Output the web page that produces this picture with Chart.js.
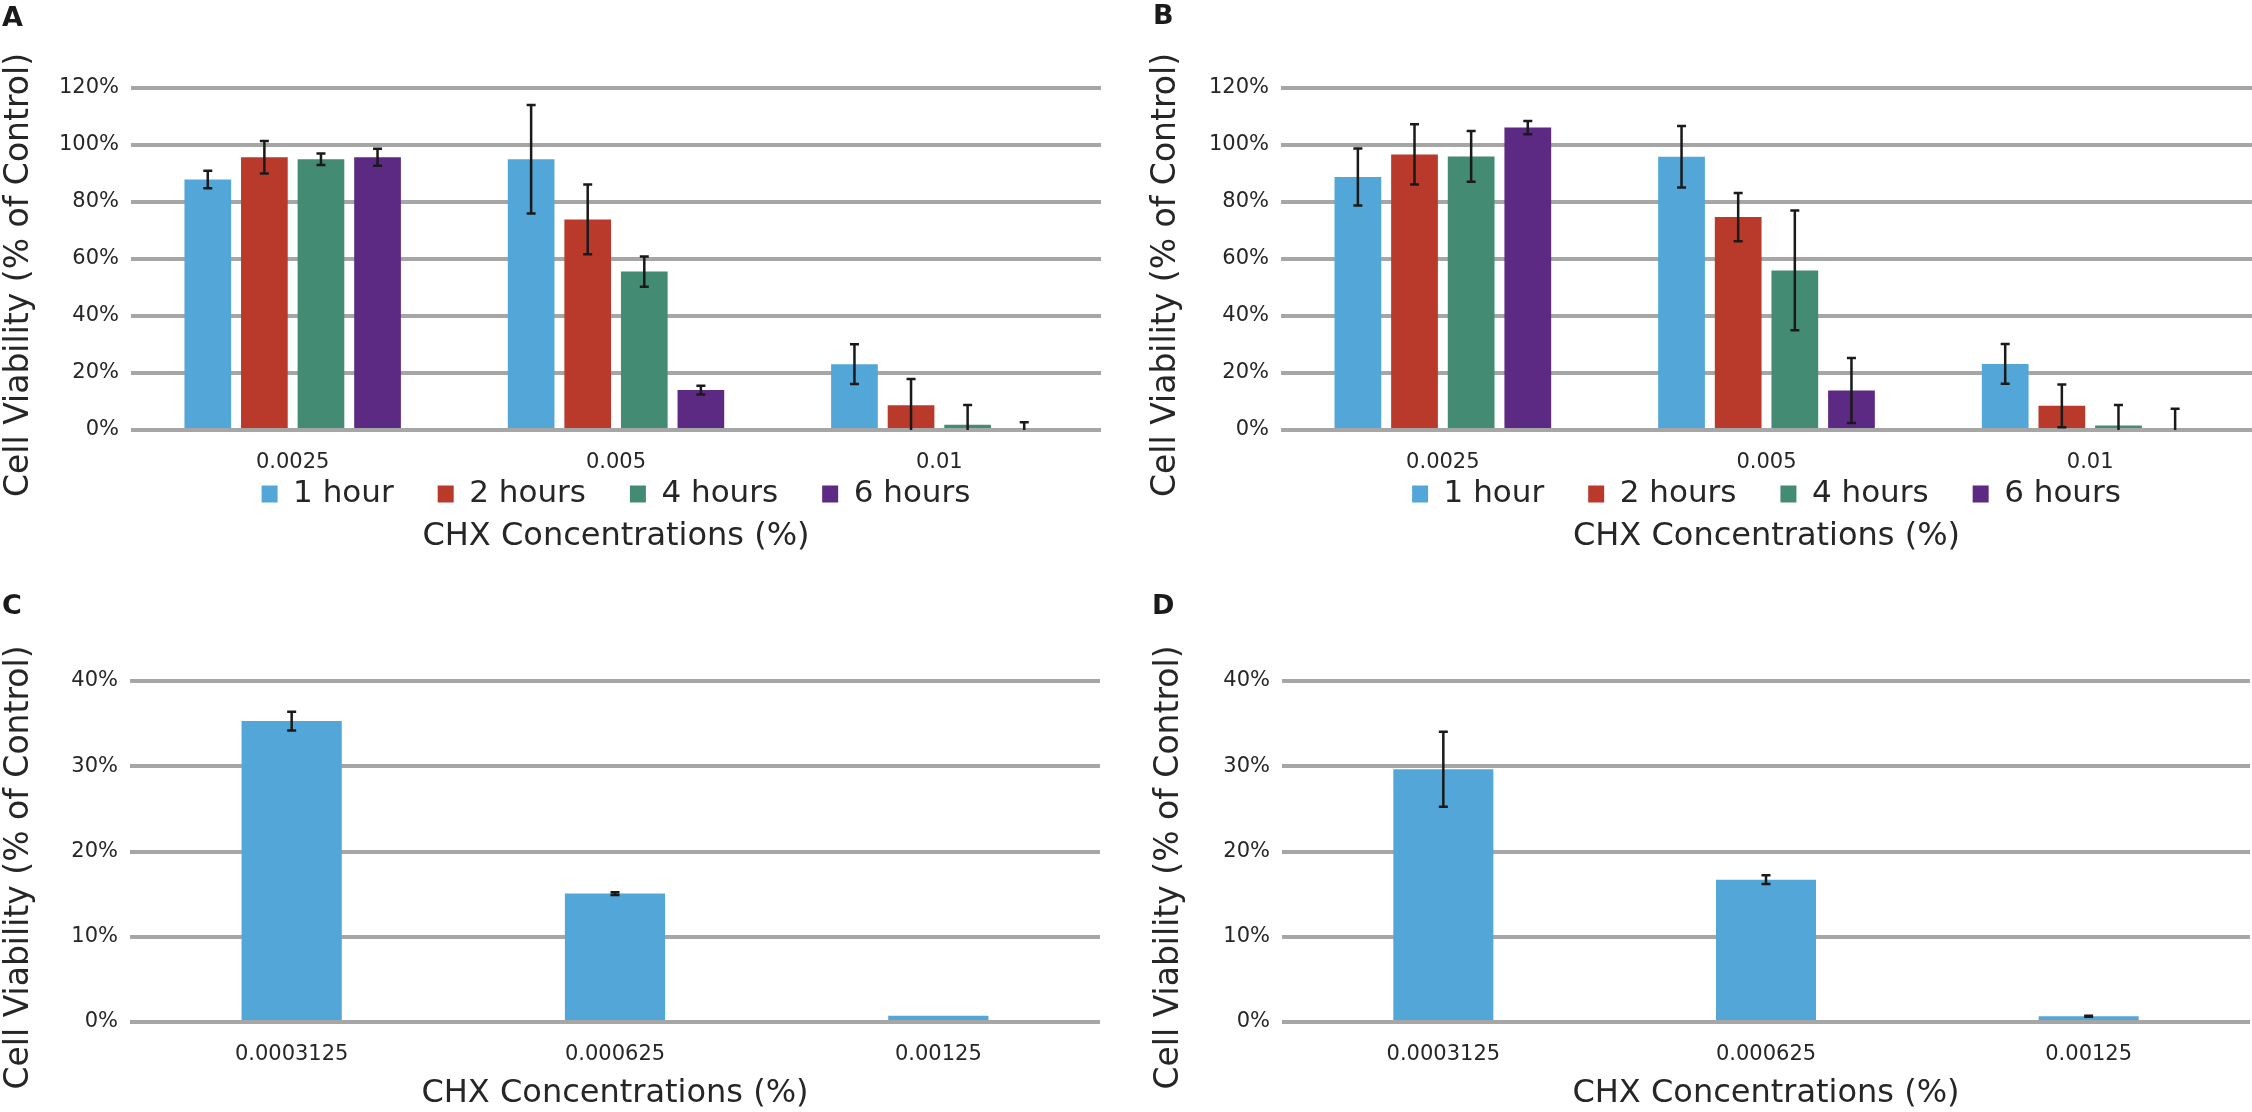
<!DOCTYPE html>
<html>
<head>
<meta charset="utf-8">
<script src="https://cdn.jsdelivr.net/npm/chart.js@4.4.1/dist/chart.umd.min.js"></script>
<style>
  html, body { margin: 0; padding: 0; background: #fff; }
  body { width: 2252px; height: 1112px; position: relative; overflow: hidden; }
  .panel { position: absolute; }
  .tag { position: absolute; font-family: 'DejaVu Sans', sans-serif; font-weight: bold; font-size: 27px; line-height: 1; color: #1a1a1a; }
</style>
</head>
<body>
<div class="panel" style="left:0;top:0;width:1126px;height:560px"><canvas id="chartA"></canvas></div>
<div class="panel" style="left:1126px;top:0;width:1126px;height:560px"><canvas id="chartB"></canvas></div>
<div class="panel" style="left:0;top:560px;width:1126px;height:552px"><canvas id="chartC"></canvas></div>
<div class="panel" style="left:1126px;top:560px;width:1126px;height:552px"><canvas id="chartD"></canvas></div>
<div class="tag" style="left:2px;top:3px">A</div>
<div class="tag" style="left:1153px;top:1px">B</div>
<div class="tag" style="left:2px;top:591px">C</div>
<div class="tag" style="left:1152px;top:591px">D</div>
<script>
// ── Data ─────────────────────────────────────────────────────────────────────

const categoriesTop = ['0.0025', '0.005', '0.01'];
const categoriesBottom = ['0.0003125', '0.000625', '0.00125'];
const seriesNames = ['1 hour', '2 hours', '4 hours', '6 hours'];

// panel A (% of control), with +/- error
const oneHourA = [87.9, 95.0, 23.1];
const twoHoursA = [95.7, 73.9, 8.7];
const fourHoursA = [95.0, 55.6, 1.8];
const sixHoursA = [95.7, 14.0, 0];
const oneHourErrA = [3.1, 19.0, 7.0];
const twoHoursErrA = [5.7, 12.2, 9.2];
const fourHoursErrA = [2.0, 5.3, 7.0];
const sixHoursErrA = [3.0, 1.5, 2.7];

// panel B
const oneHourB = [88.8, 95.9, 23.2];
const twoHoursB = [96.7, 74.7, 8.5];
const fourHoursB = [96.0, 56.0, 1.6];
const sixHoursB = [106.1, 13.9, 0];
const oneHourErrB = [10.0, 10.8, 7.0];
const twoHoursErrB = [10.6, 8.5, 7.5];
const fourHoursErrB = [8.9, 21.0, 7.2];
const sixHoursErrB = [2.3, 11.4, 7.5];

// panels C and D (1 hour only)
const viabilityC = [35.3, 15.06, 0.72];
const viabilityErrC = [1.1, 0.15, 0];
const viabilityD = [29.65, 16.7, 0.67];
const viabilityErrD = [4.4, 0.5, 0.05];

const ticksTop = [0, 20, 40, 60, 80, 100, 120];
const ticksBottom = [0, 10, 20, 30, 40];

// ── Style ────────────────────────────────────────────────────────────────────

const SERIES_COLORS = ['#52a7d8', '#b93a2b', '#448b73', '#5c2a82'];
const TEXT = '#262626';
const FONT = "'DejaVu Sans', sans-serif";

// ── Plugins ──────────────────────────────────────────────────────────────────

const errorBars = {
    id: 'errorBars',
    afterDatasetsDraw(chart) {
        const { ctx, chartArea, scales: { y } } = chart;
        ctx.save();
        ctx.beginPath();
        ctx.rect(chartArea.left, chartArea.top - 40, chartArea.width, chartArea.height + 40);
        ctx.clip();
        ctx.strokeStyle = '#1a1a1a';
        ctx.lineWidth = 2.5;
        chart.data.datasets.forEach((ds, i) => {
            chart.getDatasetMeta(i).data.forEach((bar, j) => {
                const err = ds.errors ? ds.errors[j] : 0;
                if (!err) return;
                const hi = y.getPixelForValue(ds.data[j] + err);
                const lo = y.getPixelForValue(ds.data[j] - err);
                const x = bar.x;
                ctx.beginPath();
                ctx.moveTo(x, hi); ctx.lineTo(x, lo);
                ctx.moveTo(x - 4.5, hi); ctx.lineTo(x + 4.5, hi);
                ctx.moveTo(x - 4.5, lo); ctx.lineTo(x + 4.5, lo);
                ctx.stroke();
            });
        });
        ctx.restore();
    },
};

// x axis is squeezed so the legend sits right under it: widen its label clip again.
// The y title in the original sits a little below the plot centre: stretch the box it centres on.
const layoutTweaks = {
    id: 'layoutTweaks',
    afterLayout(chart) {
        const { x, y } = chart.scales;
        x.bottom = Math.max(x.bottom, x.top + 45);
        y.bottom += 32;
    },
};

// ── Charts ───────────────────────────────────────────────────────────────────

function groupedDatasets(values, errors) {
    return values.map((data, i) => ({
        label: seriesNames[i],
        data,
        errors: errors[i],
        backgroundColor: SERIES_COLORS[i],
        categoryPercentage: 0.70,
        barPercentage: 0.825,
    }));
}

function singleDataset(data, errors) {
    return [{
        label: seriesNames[0],
        data,
        errors,
        backgroundColor: SERIES_COLORS[0],
        categoryPercentage: 1,
        barPercentage: 0.31,
    }];
}

function makeChart(id, { labels, datasets, yTicks, legend, pad, yWidth, xHeight }) {
    return new Chart(document.getElementById(id), {
        type: 'bar',
        data: { labels, datasets },
        options: {
            responsive: true,
            maintainAspectRatio: false,
            animation: false,
            layout: { padding: pad },
            plugins: {
                legend: {
                    display: legend,
                    position: 'bottom',
                    fullSize: false,
                    labels: {
                        boxWidth: 16,
                        boxHeight: 17,
                        padding: 44,
                        color: TEXT,
                        font: { family: FONT, size: 31 },
                    },
                },
                title: {
                    display: true,
                    position: 'bottom',
                    fullSize: false,
                    text: 'CHX Concentrations (%)',
                    color: TEXT,
                    font: { family: FONT, size: 32, weight: 'normal', lineHeight: 1.1 },
                    padding: { top: 0, bottom: 0 },
                },
                tooltip: { enabled: false },
            },
            scales: {
                x: {
                    grid: { display: false },
                    border: { display: false },
                    ticks: {
                        color: TEXT,
                        padding: 12,
                        maxRotation: 0,
                        autoSkip: false,
                        font: { family: FONT, size: 21 },
                    },
                    afterFit: scale => { scale.height = xHeight; },
                },
                y: {
                    min: yTicks[0],
                    max: yTicks[yTicks.length - 1],
                    afterBuildTicks: scale => { scale.ticks = yTicks.map(value => ({ value })); },
                    ticks: {
                        color: TEXT,
                        padding: 12,
                        font: { family: FONT, size: 21 },
                        callback: v => v + '%',
                    },
                    grid: { color: '#a6a6a6', lineWidth: 4, drawTicks: false },
                    border: { display: false },
                    title: {
                        display: true,
                        text: 'Cell Viability (% of Control)',
                        color: TEXT,
                        font: { family: FONT, size: 33 },
                        padding: { top: 0, bottom: 0 },
                    },
                    afterFit: scale => { scale.width = yWidth; },
                },
            },
        },
        plugins: [errorBars, layoutTweaks],
    });
}

makeChart('chartA', {
    labels: categoriesTop,
    datasets: groupedDatasets(
        [oneHourA, twoHoursA, fourHoursA, sixHoursA],
        [oneHourErrA, twoHoursErrA, fourHoursErrA, sixHoursErrA]),
    yTicks: ticksTop,
    legend: true,
    pad: { left: 0, right: 25, top: 88, bottom: 5.4 },
    yWidth: 131,
    xHeight: 4.4,
});

makeChart('chartB', {
    labels: categoriesTop,
    datasets: groupedDatasets(
        [oneHourB, twoHoursB, fourHoursB, sixHoursB],
        [oneHourErrB, twoHoursErrB, fourHoursErrB, sixHoursErrB]),
    yTicks: ticksTop,
    legend: true,
    pad: { left: 21, right: 0, top: 88, bottom: 5.4 },
    yWidth: 134,
    xHeight: 4.4,
});

makeChart('chartC', {
    labels: categoriesBottom,
    datasets: singleDataset(viabilityC, viabilityErrC),
    yTicks: ticksBottom,
    legend: false,
    pad: { left: 0, right: 26, top: 121, bottom: 0.4 },
    yWidth: 130,
    xHeight: 54.4,
});

makeChart('chartD', {
    labels: categoriesBottom,
    datasets: singleDataset(viabilityD, viabilityErrD),
    yTicks: ticksBottom,
    legend: false,
    pad: { left: 24, right: 2, top: 121, bottom: 0.4 },
    yWidth: 132,
    xHeight: 54.4,
});
</script>
</body>
</html>
